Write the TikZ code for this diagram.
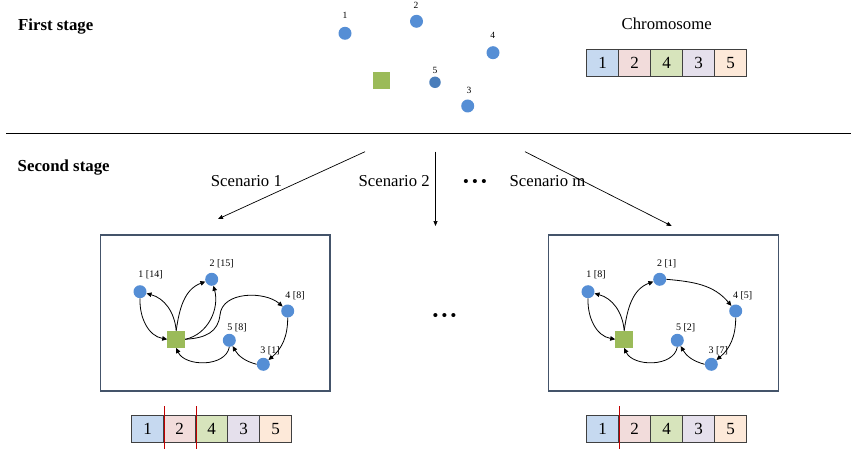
\documentclass[tikz,border=0pt]{standalone}
\usepackage{fontspec}
\setmainfont{Liberation Serif}
\usetikzlibrary{arrows.meta}

\definecolor{custblue}{RGB}{85,142,213}
\definecolor{custdark}{RGB}{74,126,187}
\definecolor{depotgreen}{RGB}{155,187,89}
\definecolor{geneline}{RGB}{64,64,64}
\definecolor{framecol}{RGB}{68,84,106}
\definecolor{cutred}{RGB}{192,0,0}
\definecolor{gA}{RGB}{198,217,240}
\definecolor{gB}{RGB}{242,220,219}
\definecolor{gC}{RGB}{215,228,188}
\definecolor{gD}{RGB}{229,224,236}
\definecolor{gE}{RGB}{253,233,217}

\begin{document}
\begin{tikzpicture}[x=1pt,y=1pt,
  cust/.style={circle, fill=custblue, inner sep=0, minimum size=13pt},
  depot/.style={rectangle, fill=depotgreen, inner sep=0, minimum width=17.5pt, minimum height=17pt},
  toplbl/.style={inner sep=0, font=\fontsize{9.5}{11}\selectfont},
  lbl/.style={inner sep=0, font=\fontsize{10}{12}\selectfont},
  route/.style={-{Triangle[length=5pt,width=4.5pt]}, line width=0.8pt},
  branch/.style={-{Triangle[length=5pt,width=4pt]}, line width=0.7pt},
  gene/.style={draw=geneline, line width=0.9pt, minimum width=32pt, minimum height=27pt, inner sep=0, font=\fontsize{17}{20}\selectfont},
  frame/.style={draw=framecol, line width=1.1pt, inner sep=0},
  title/.style={inner sep=0, anchor=base west, font=\bfseries\fontsize{16.8}{20}\selectfont},
  plain/.style={inner sep=0, font=\fontsize{16.7}{20}\selectfont},
  cut/.style={draw=cutred, line width=1pt},
  dots/.style={inner sep=0, font=\fontsize{15}{18}\selectfont}]
\useasboundingbox (0,0) rectangle (851,-449);

% ---------- first stage ----------
\node[title] (t1) at (18,-30.7) {First stage};

\node[cust] (P1) at (345,-33.3) {};
\node[cust] (P2) at (416.5,-21.3) {};
\node[cust] (P4) at (493,-52.7) {};
\node[cust, fill=custdark, minimum size=11.5pt] (P5) at (435,-82.3) {};
\node[cust] (P3) at (467.7,-106) {};
\node[depot] (P0) at (381.3,-80.8) {};
\node[toplbl] (P1l) at (345,-15.7) {1};
\node[toplbl] (P2l) at (416,-5) {2};
\node[toplbl] (P4l) at (492.7,-35) {4};
\node[toplbl] (P5l) at (435,-70) {5};
\node[toplbl] (P3l) at (469,-90.7) {3};

\node[plain, anchor=base] (chr) at (666.7,-29.3) {Chromosome};
\foreach \i/\g/\c in {1/1/gA,2/2/gB,3/4/gC,4/3/gD,5/5/gE}
  \node[gene, fill=\c] (T\i) at ({586.7+16+32*(\i-1)},-62.6) {\g};

% ---------- separator ----------
\coordinate (s0) at (6,-134);
\coordinate (s1) at (851,-134);
\draw[line width=1pt] (s0) -- (s1);

% ---------- second stage ----------
\node[title] (t2) at (17.5,-172) {Second stage};

\coordinate (b1s) at (365,-151.7);
\coordinate (b1e) at (218,-219);
\coordinate (b2s) at (435.5,-151.7);
\coordinate (b2e) at (435.5,-226);
\coordinate (b3s) at (525,-151.7);
\coordinate (b3e) at (671.7,-226);
\draw[branch] (b1s) -- (b1e);
\draw[branch] (b2s) -- (b2e);
\draw[branch] (b3s) -- (b3e);

\node[plain, anchor=base west] (sc1) at (210.7,-186.7) {Scenario 1};
\node[plain, anchor=base west] (sc2) at (358.5,-186.7) {Scenario 2};
\node[plain, anchor=base west] (scm) at (509.5,-186.7) {Scenario m};
\node[dots] (d1) at (475,-183.3) {\textbf{• • •}};
\node[dots] (d2) at (444.5,-316.7) {\textbf{• • •}};

% scenario frames
\node[frame, minimum width=229.3pt, minimum height=156pt] (F1) at (215.35,-313) {};
\node[frame, minimum width=230pt, minimum height=156pt] (F2) at (663.3,-313) {};

% scenario 1 routes
\node[depot] (L0) at (176.2,-339.3) {};
\node[cust] (L1) at (140,-291.7) {};
\node[cust] (L2) at (211.7,-279.3) {};
\node[cust] (L4) at (287.7,-311) {};
\node[cust] (L5) at (229.3,-340.3) {};
\node[cust] (L3) at (263.3,-364.3) {};
\node[lbl] (L1l) at (150.5,-275) {1 [14]};
\node[lbl] (L2l) at (221.7,-264) {2 [15]};
\node[lbl] (L4l) at (295,-295.3) {4 [8]};
\node[lbl] (L5l) at (237,-327.7) {5 [8]};
\node[lbl] (L3l) at (270,-351) {3 [1]};

\draw[route] (L0.north) to[out=95,in=-15] (L1);
\draw[route] (L1.south) to[out=-92,in=170] (L0.west);
\draw[route] (L0.north) to[out=82,in=-160] (L2);
\draw[route] (L0.east) to[out=12,in=-75] (L2);
\draw[route] (L0.east) .. controls (206,-338) and (218,-332) .. (220,-315)
  .. controls (222,-291) and (265,-291) .. (L4);
\draw[route] (L4.south) to[out=-90,in=40] (L3);
\draw[route] (L3.west) to[out=165,in=-60] (L5);
\draw[route] (L5.south) to[out=-100,in=-65] (L0.south);

% scenario m routes
\begin{scope}[shift={(448,0)}]
\node[depot] (R0) at (176.2,-339.3) {};
\node[cust] (R1) at (140,-291.7) {};
\node[cust] (R2) at (211.7,-279.3) {};
\node[cust] (R4) at (287.7,-311) {};
\node[cust] (R5) at (229.3,-340.3) {};
\node[cust] (R3) at (263.3,-364.3) {};
\node[lbl] (R1l) at (148,-275) {1 [8]};
\node[lbl] (R2l) at (218.7,-264) {2 [1]};
\node[lbl] (R4l) at (294.7,-295.3) {4 [5]};
\node[lbl] (R5l) at (237.7,-327.7) {5 [2]};
\node[lbl] (R3l) at (270.3,-351) {3 [7]};
\end{scope}

\draw[route] (R0.north) to[out=95,in=-15] (R1);
\draw[route] (R1.south) to[out=-92,in=170] (R0.west);
\draw[route] (R0.north) to[out=82,in=-160] (R2);
\draw[route] (R2.east) to[out=-5,in=130] (R4);
\draw[route] (R4.south) to[out=-90,in=40] (R3);
\draw[route] (R3.west) to[out=165,in=-60] (R5);
\draw[route] (R5.south) to[out=-100,in=-65] (R0.south);

% offspring chromosomes with cut points
\foreach \i/\g/\c in {1/1/gA,2/2/gB,3/4/gC,4/3/gD,5/5/gE}{
  \node[gene, fill=\c, minimum height=26.5pt] (A\i) at ({131.7+16+32*(\i-1)},-429) {\g};
  \node[gene, fill=\c, minimum height=26.5pt] (B\i) at ({586.7+16+32*(\i-1)},-428.8) {\g};
}
\draw[cut] ([yshift=9pt]A1.north east) -- ([yshift=-6.5pt]A1.south east);
\draw[cut] ([yshift=9pt]A2.north east) -- ([yshift=-6.5pt]A2.south east);
\draw[cut] ([yshift=9pt]B1.north east) -- ([yshift=-6.5pt]B1.south east);
\end{tikzpicture}
\end{document}
